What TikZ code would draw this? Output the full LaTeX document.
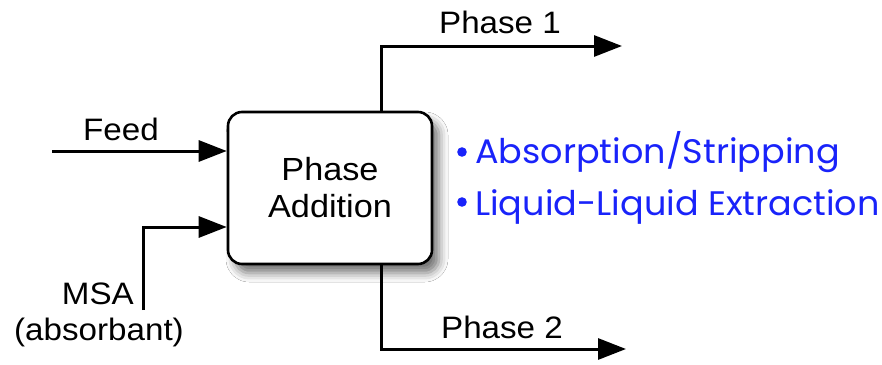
\documentclass[tikz,border=0pt]{standalone}
\usepackage{fontspec}
\setmainfont{Liberation Sans}[FakeStretch=1.07]
\newfontfamily\listfont{Poppins}[FakeStretch=1.03]
\usetikzlibrary{arrows.meta,shadows.blur}
\definecolor{listblue}{RGB}{25,35,250}
\begin{document}
\begin{tikzpicture}[x=1pt,y=-1pt,
  stream/.style={line width=3pt,-{Triangle[length=28pt,width=21pt]}},
  unitbox/.style={draw,line width=2.6pt,rounded corners=14pt,fill=white,
    minimum width=204pt,minimum height=152pt,align=center,
    font=\fontsize{32}{37}\selectfont,
    blur shadow={shadow xshift=7pt,shadow yshift=-9pt,shadow blur radius=9pt,shadow opacity=55}},
  lbl/.style={font=\fontsize{31}{35}\selectfont,inner sep=0pt},
  item/.style={font=\listfont\fontsize{34}{38}\selectfont,text=listblue,anchor=base west,inner sep=0pt}]
\useasboundingbox (0,0) rectangle (882,364);
\fill[white] (0,0) rectangle (882,364);

% separation unit
\node[unitbox] (unit) at (330,188) {Phase\\Addition};

% inlet streams
\coordinate (feedin) at (52,151);
\coordinate (msain) at (143,310);
\coordinate (msacorner) at (143,227);
\draw[stream] (feedin) -- (feedin -| unit.west);
\draw[stream] (msain) -- (msacorner) -- (msacorner -| unit.west);
\node[lbl] (feed) at (121,129) {Feed};
\node[lbl,anchor=east] (msa) at (134,294) {MSA};
\node[lbl] (msa2) at (99,332) {(absorbant)};

% outlet streams
\coordinate (top) at (381,46);
\coordinate (topend) at (622,46);
\coordinate (bot) at (381,349);
\coordinate (botend) at (626,349);
\draw[stream] (top |- unit.north) -- (top) -- (topend);
\draw[stream] (bot |- unit.south) -- (bot) -- (botend);
\node[lbl] (ph1) at (500,22) {Phase 1};
\node[lbl] (ph2) at (502,327) {Phase 2};

% applications
\fill[listblue] (462,152) circle (4.8pt);
\fill[listblue] (462,202) circle (4.8pt);
\node[item] (app1) at (475,163) {Absorption/Stripping};
\node[item] (app2) at (475,215) {Liquid-Liquid Extraction};
\end{tikzpicture}
\end{document}
